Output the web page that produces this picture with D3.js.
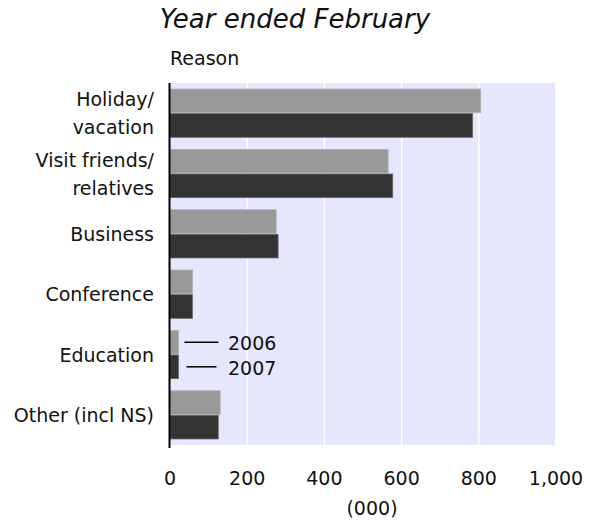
<!DOCTYPE html>
<html lang="en">
  <head>
    <meta charset="UTF-8" />
    <title>Year ended February</title>
    <style>
      body { margin: 0; background: #fff; }
      text { font-family: "DejaVu Sans", sans-serif; fill: #111; }
    </style>
  </head>
  <body>
    <svg id="svg" width="590" height="520"></svg>

    <script src="https://d3js.org/d3.v7.min.js"></script>
    <script>
      // data, thousands of visitors
      const reasons = [
        ["Holiday/", "vacation"],
        ["Visit friends/", "relatives"],
        ["Business"],
        ["Conference"],
        ["Education"],
        ["Other (incl NS)"],
      ];
      const years = ["2006", "2007"];
      const values2006 = [805, 565, 275, 58, 22, 130];
      const values2007 = [784, 577, 280, 58, 22, 125];
      const xTicks = [0, 200, 400, 600, 800, 1000];

      const colors = { 2006: "#999999", 2007: "#333333" };
      const strokes = { 2006: "#b0b0b0", 2007: "#666666" };

      const rows = reasons.map((r, i) => ({
        key: r.join(" "),
        lines: r,
        2006: values2006[i],
        2007: values2007[i],
      }));

      const plotLeft = 170, plotRight = 556, plotTop = 83, plotBottom = 445;
      const svg = d3.select("#svg");

      const x = d3.scaleLinear().domain([0, 1000]).range([plotLeft, plotRight]);
      const y = d3
        .scaleBand()
        .domain(rows.map((d) => d.key))
        .range([plotTop, plotBottom])
        .paddingInner(0.2)
        .paddingOuter(0.1);
      const ySub = d3
        .scaleBand()
        .domain(years)
        .range([0, y.bandwidth()])
        .paddingInner(0.04);

      // plot background
      svg.append("rect")
        .attr("x", plotLeft)
        .attr("y", plotTop)
        .attr("width", plotRight - plotLeft - 1)
        .attr("height", plotBottom - plotTop)
        .attr("fill", "#e6e6ff");

      // white gridlines
      svg.selectAll(".grid")
        .data(xTicks.filter((t) => t > 0 && t < 1000))
        .enter()
        .append("line")
        .attr("x1", (d) => x(d))
        .attr("x2", (d) => x(d))
        .attr("y1", plotTop)
        .attr("y2", plotBottom)
        .attr("stroke", "#fff")
        .attr("stroke-width", 1.5);

      // bars
      const groups = svg.selectAll(".row")
        .data(rows)
        .enter()
        .append("g")
        .attr("transform", (d) => `translate(0,${y(d.key)})`);

      groups.selectAll("rect")
        .data((d) => years.map((yr) => ({ yr, v: d[yr] })))
        .enter()
        .append("rect")
        .attr("x", x(0))
        .attr("y", (d) => ySub(d.yr))
        .attr("width", (d) => x(d.v) - x(0))
        .attr("height", ySub.bandwidth())
        .attr("fill", (d) => colors[d.yr])
        .attr("stroke", (d) => strokes[d.yr])
        .attr("stroke-width", 0.8);

      // vertical axis line
      svg.append("line")
        .attr("x1", plotLeft - 0.5)
        .attr("x2", plotLeft - 0.5)
        .attr("y1", plotTop)
        .attr("y2", plotBottom + 3)
        .attr("stroke", "#000")
        .attr("stroke-width", 2);

      // category labels
      const labels = svg.selectAll(".cat")
        .data(rows)
        .enter()
        .append("text")
        .attr("text-anchor", "end")
        .attr("font-size", 19)
        .attr("transform", (d) => {
          const cy = y(d.key) + y.bandwidth() / 2;
          const off = d.lines.length === 2 ? -7 : 7;
          return `translate(154,${cy + off})`;
        });
      labels.selectAll("tspan")
        .data((d) => d.lines)
        .enter()
        .append("tspan")
        .attr("x", 0)
        .attr("dy", (d, i) => (i === 0 ? 0 : 28))
        .text((d) => d);

      // x axis tick labels
      svg.selectAll(".tick")
        .data(xTicks)
        .enter()
        .append("text")
        .attr("x", (d) => x(d))
        .attr("y", 485)
        .attr("text-anchor", "middle")
        .attr("font-size", 19)
        .text((d) => d3.format(",")(d));

      svg.append("text")
        .attr("x", 372)
        .attr("y", 515)
        .attr("text-anchor", "middle")
        .attr("font-size", 19)
        .text("(000)");

      svg.append("text")
        .attr("x", plotLeft)
        .attr("y", 65)
        .attr("font-size", 19)
        .text("Reason");

      svg.append("text")
        .attr("x", 295)
        .attr("y", 28)
        .attr("text-anchor", "middle")
        .attr("font-size", 26)
        .attr("font-style", "italic")
        .text("Year ended February");

      // legend with leader lines pointing at the Education bars
      const edu = rows[4];
      years.forEach((yr, i) => {
        const cy = y(edu.key) + ySub(yr) + ySub.bandwidth() / 2;
        svg.append("line")
          .attr("x1", x(edu[yr]) + 6 + i * 2)
          .attr("x2", x(edu[yr]) + 40 - i * 2)
          .attr("y1", cy)
          .attr("y2", cy)
          .attr("stroke", "#000")
          .attr("stroke-width", 1.5);
        svg.append("text")
          .attr("x", 228)
          .attr("y", cy + 8)
          .attr("font-size", 19)
          .text(yr);
      });
    </script>
  </body>
</html>
